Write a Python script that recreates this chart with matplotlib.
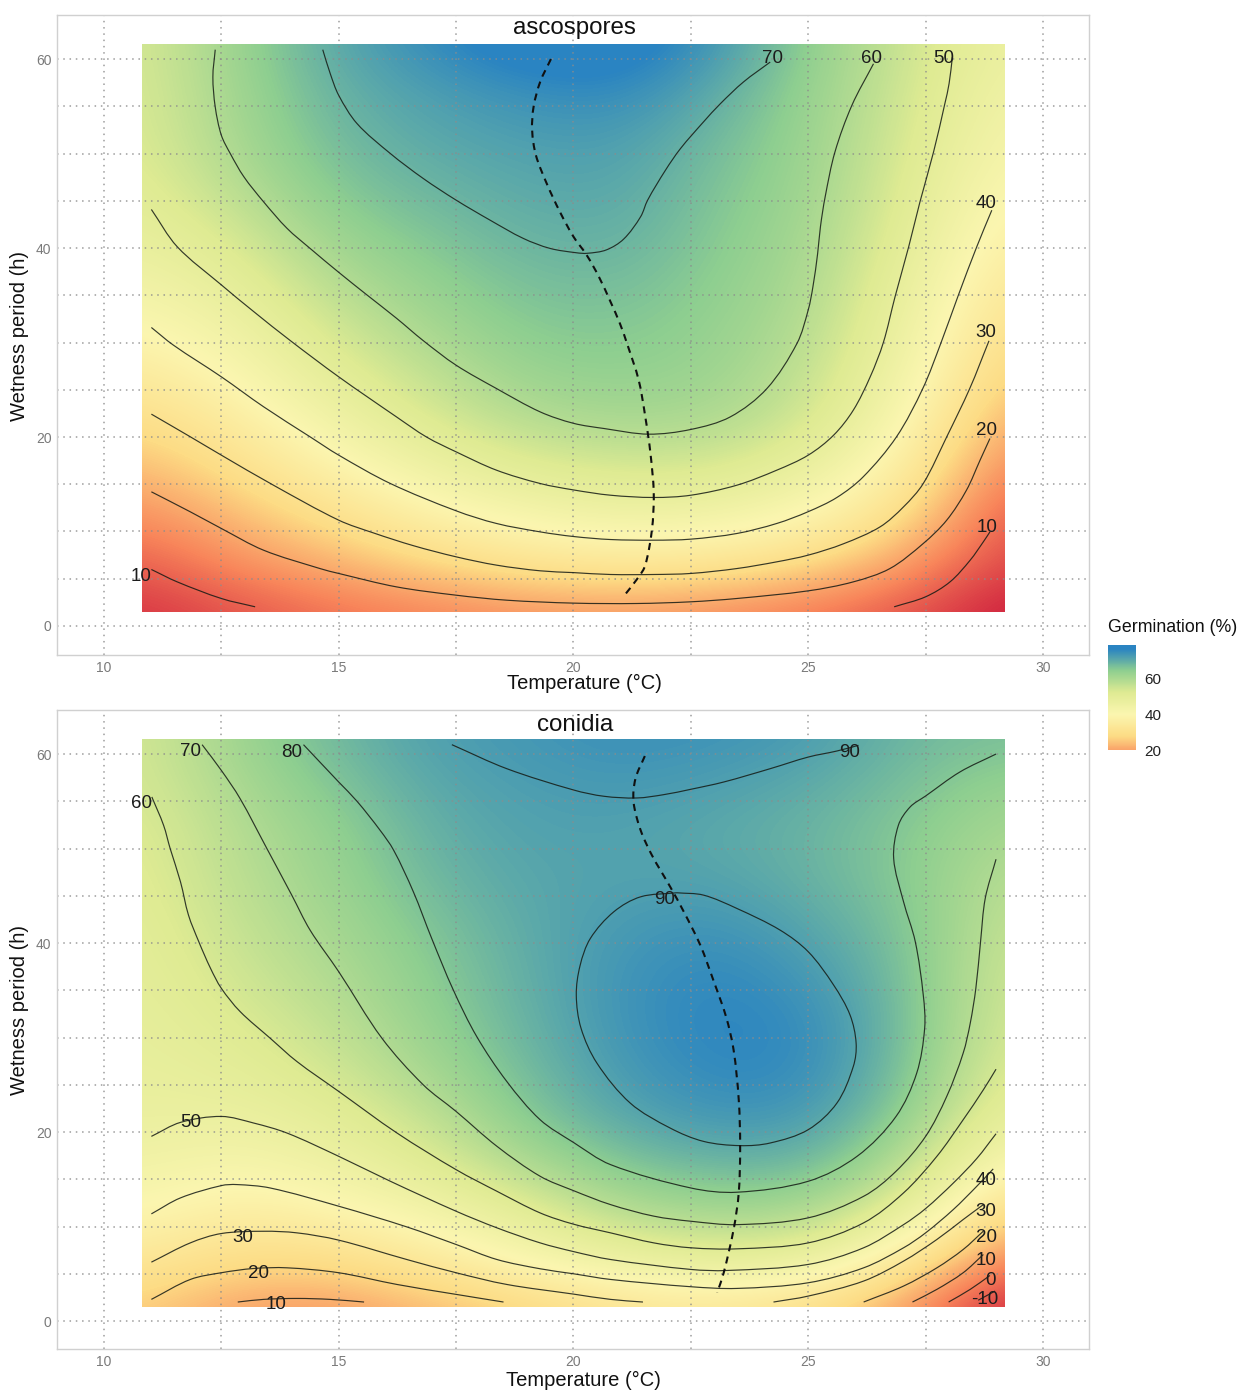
import numpy as np
import matplotlib
matplotlib.use('Agg')
import matplotlib.pyplot as plt
from matplotlib.colors import LinearSegmentedColormap, Normalize
from matplotlib.patches import PathPatch, Rectangle
from matplotlib.path import Path

plt.rcParams['font.family'] = ['Liberation Sans', 'DejaVu Sans']

# Surface: rows are wetness, columns are temperature
temp_nodes = [10.8, 12.84, 14.89, 16.93, 18.98, 21.02, 23.07, 25.11, 27.16, 29.2]
wet_nodes = [1.5, 6.5, 11.5, 16.5, 21.5, 26.5, 31.5, 36.5, 41.5, 46.5, 51.5, 56.5, 61.5]

asco_surface = [
    [5, 9, 13, 15, 17, 18, 16.5, 13.5, 9, 2],
    [10.5, 17, 21.5, 27, 31, 33, 31.5, 27.5, 18.5, 7],
    [16.5, 23, 30, 37, 42, 45, 44, 39, 28, 10],
    [22.5, 29.5, 37.5, 45.5, 51, 53.5, 53, 47, 34.5, 15],
    [28.5, 35, 44.5, 52.5, 58.5, 60.5, 59.8, 53.5, 39.5, 20.5],
    [34, 40.5, 50, 57, 63, 64, 62.5, 56.5, 43, 25.5],
    [39.5, 45, 54.5, 61, 65.5, 66, 63.5, 58.5, 45.5, 29.5],
    [44, 49.5, 59, 64, 67.5, 68, 64.5, 60, 47.5, 33],
    [48, 54, 63, 66.5, 69.5, 70, 65.5, 61, 50, 36.5],
    [50.5, 58.5, 66, 69, 71, 71.5, 66.5, 62, 51.5, 39.5],
    [52, 61, 68, 71, 72.5, 73, 68, 62.5, 53, 42],
    [52.5, 62, 69.5, 72.5, 75, 76, 70.5, 63, 54, 44],
    [53, 63, 71, 75.5, 80, 80, 74, 64, 55, 46],
]
conidia_surface = [
    [19, 9, 8, 14, 20, 27, 30, 23, 8, -16],
    [30.5, 23, 24, 31.5, 42, 50.5, 55, 52, 30, 3],
    [40.5, 34, 38, 45, 56, 69, 73, 71, 53, 21],
    [47, 43, 48, 57.5, 70, 80, 84, 83.5, 67, 39.5],
    [51, 50, 55.5, 65.5, 79, 87.5, 91.5, 90.5, 76.5, 51],
    [52.5, 55, 62, 72, 82.5, 90.5, 95, 94, 80.5, 57],
    [53.5, 59, 66, 76, 84.5, 92, 96, 94, 81.5, 60],
    [54.5, 62.5, 69.5, 78, 85.5, 92, 95, 91, 81, 61.5],
    [55.5, 65, 72, 80, 86.5, 90.5, 92.5, 87.5, 80, 64],
    [57, 67, 74.5, 83, 87.5, 88.5, 88.5, 84.5, 78.5, 67],
    [58, 68.5, 76, 85, 88.5, 88.5, 86.5, 84, 78.5, 71],
    [60, 71, 79.5, 87, 89.5, 90.5, 89, 86, 81, 75],
    [61, 74, 83, 89, 91, 93, 92, 90, 83, 81],
]

# Contour lines (temperature, wetness)
asco_10a = [(11.01, 5.98), (11.56, 4.67), (12.5, 2.91), (13.22, 2.03)]
asco_10b = [(26.83, 2.03), (27.5, 3.09), (28.02, 4.67), (28.45, 6.97), (28.73, 8.91), (28.87, 9.96)]
asco_20 = [(11.01, 14.2), (11.84, 12.08), (12.5, 10.32), (13.4, 8.02), (14.6, 6.08), (15.0, 5.56), (16.23, 4.14),
           (17.5, 3.26), (18.58, 2.73), (20.0, 2.42), (21.35, 2.38), (22.5, 2.56), (23.48, 2.91), (25.0, 3.72),
           (25.96, 4.67), (26.74, 6.08), (27.45, 8.73), (27.95, 11.2), (28.37, 14.37), (28.66, 17.55), (28.87, 19.84)]
asco_30 = [(11.01, 22.42), (11.84, 20.02), (12.5, 18.08), (13.61, 14.9), (15.0, 11.2), (15.74, 9.85), (16.59, 8.5),
           (17.5, 7.32), (18.36, 6.44), (19.29, 5.84), (20.0, 5.65), (20.79, 5.45), (21.71, 5.45), (22.5, 5.56),
           (23.48, 6.08), (24.33, 6.79), (25.0, 7.5), (25.75, 8.7), (26.53, 10.49), (27.03, 12.61), (27.45, 15.08),
           (27.95, 20.02), (28.44, 25.13), (28.85, 30.18)]
asco_40 = [(11.01, 31.59), (11.48, 29.72), (12.5, 26.37), (13.4, 23.2), (14.39, 20.02), (15.0, 18.08), (16.1, 15.08),
           (17.5, 12.19), (18.36, 10.85), (19.29, 9.96), (20.0, 9.47), (20.79, 9.15), (21.71, 9.08), (22.5, 9.19),
           (23.48, 9.79), (24.33, 10.85), (25.0, 12.1), (25.61, 13.6), (26.17, 15.78), (26.88, 20.02), (27.44, 25.13),
           (27.83, 30.0), (28.2, 35.04), (28.59, 40.14), (28.91, 44.0)]
asco_50 = [(11.01, 44.08), (11.56, 40.14), (12.5, 36.1), (13.19, 33.27), (13.97, 30.2), (15.0, 26.37),
           (16.23, 22.13), (16.87, 20.0), (17.5, 18.43), (18.36, 16.49), (19.29, 15.08), (20.0, 14.4), (20.79, 13.84),
           (21.71, 13.6), (22.5, 13.84), (23.48, 14.9), (24.33, 16.49), (25.0, 18.08), (25.54, 20.19), (25.96, 22.84),
           (26.32, 26.37), (26.6, 30.0), (26.85, 34.86), (27.14, 40.14), (27.38, 44.89), (27.67, 50.18), (27.91, 55.28),
           (28.0, 57.4), (28.07, 60.2)]
asco_60 = [(12.37, 60.99), (12.32, 58.1), (12.37, 54.93), (12.5, 51.94), (12.69, 50.0), (12.98, 47.54), (13.4, 44.89),
           (13.9, 42.08), (14.39, 39.96), (15.0, 37.43), (15.6, 35.04), (16.23, 32.57), (16.8, 30.2), (17.5, 27.6),
           (18.36, 25.13), (19.29, 22.66), (20.0, 21.45), (20.65, 20.9), (21.6, 20.3), (22.5, 20.8), (23.34, 22.13),
           (24.12, 25.13), (24.76, 29.9), (25.0, 33.45), (25.1, 35.9), (25.2, 39.4), (25.26, 42.25), (25.36, 45.4),
           (25.57, 50.18), (25.93, 55.1), (26.39, 59.5)]
asco_70 = [(14.66, 60.99), (14.82, 58.45), (15.0, 56.16), (15.39, 53.17), (16.1, 50.0), (16.8, 47.36), (17.5, 45.07),
           (18.22, 42.96), (18.93, 41.02), (19.5, 39.96), (20.06, 39.5), (20.29, 39.44), (20.7, 39.8), (21.07, 40.95),
           (21.43, 43.31), (21.58, 45.07), (21.96, 48.24), (22.28, 50.53), (22.77, 53.35), (23.13, 55.28), (23.62, 57.57),
           (24.19, 59.68)]
asco_lines = [asco_10a, asco_10b, asco_20, asco_30, asco_40, asco_50, asco_60, asco_70]
asco_optimum = [(19.52, 60.0), (19.29, 57.57), (19.15, 54.93), (19.12, 52.46), (19.2, 49.82), (19.43, 46.83),
                (19.71, 43.84), (20.0, 41.2), (20.28, 39.26), (20.54, 36.97), (20.79, 34.3), (20.99, 32.0), (21.14, 29.9),
                (21.39, 26.0), (21.53, 22.13), (21.64, 18.25), (21.71, 14.0), (21.67, 10.14), (21.53, 6.44), (21.39, 5.2),
                (21.06, 3.09)]

con_m10 = [(28.62, 2.2), (28.98, 3.17)]
con_0 = [(27.99, 2.01), (28.45, 3.35), (28.87, 4.82)]
con_10a = [(12.85, 2.01), (13.4, 2.29), (14.11, 2.39), (14.82, 2.29), (15.54, 2.01)]
con_10b = [(27.22, 2.01), (27.74, 3.35), (28.3, 5.11), (28.73, 7.04)]
con_20a = [(11.01, 2.29), (11.84, 4.4), (12.5, 5.11), (13.19, 5.56), (13.9, 5.63), (15.0, 5.11), (16.24, 3.87),
           (17.5, 2.82), (18.51, 2.01)]
con_20b = [(26.18, 2.01), (27.03, 3.7), (27.74, 5.63), (28.3, 7.57), (28.73, 9.51)]
con_30a = [(11.01, 6.23), (11.84, 8.27), (12.5, 9.26), (13.4, 9.5), (14.11, 9.33), (15.0, 8.56), (16.45, 6.51),
           (17.5, 5.11), (18.58, 3.87), (20.0, 2.85), (20.79, 2.29), (21.48, 2.01)]
con_30b = [(24.26, 2.01), (25.0, 2.64), (26.18, 4.23), (27.03, 6.34), (27.74, 8.63), (28.3, 10.74), (28.73, 12.32)]
con_40 = [(11.01, 11.34), (11.63, 13.03), (12.5, 14.33), (12.83, 14.44), (13.54, 14.08), (15.0, 12.15), (16.45, 9.96),
          (17.5, 8.1), (18.37, 6.51), (19.29, 5.53), (20.0, 5.0), (20.79, 4.4), (22.5, 3.63), (23.48, 3.45), (25.0, 4.05),
          (26.18, 5.63), (27.03, 7.75), (27.5, 9.33), (28.09, 11.8), (28.59, 14.26), (28.94, 16.1)]
con_50 = [(11.01, 19.54), (11.63, 21.02), (12.5, 21.65), (13.19, 20.95), (13.9, 19.89), (15.0, 17.43), (16.1, 14.79),
          (17.5, 11.62), (18.37, 9.86), (19.29, 8.27), (20.0, 7.35), (20.79, 6.51), (22.5, 5.46), (23.27, 5.35), (25.0, 5.99),
          (26.18, 7.75), (27.03, 10.2), (27.5, 11.9), (28.09, 14.6), (28.59, 17.2), (29.0, 19.82)]
con_60 = [(11.02, 55.46), (11.27, 52.46), (11.41, 50.0), (11.63, 46.48), (11.8, 42.96), (12.02, 40.14), (12.27, 37.32),
          (12.5, 35.21), (12.9, 32.75), (13.54, 29.93), (14.11, 27.46), (15.0, 24.3), (16.24, 19.9), (17.5, 16.02),
          (18.37, 13.73), (19.29, 11.44), (20.0, 10.25), (20.79, 9.33), (21.71, 8.27), (22.5, 7.75), (23.48, 7.64), (25.0, 8.27),
          (26.18, 10.39), (27.03, 13.56), (27.74, 17.43), (28.3, 21.3), (28.73, 24.47), (29.0, 26.65)]
con_70 = [(12.09, 60.99), (12.5, 58.27), (12.9, 55.28), (13.47, 50.0), (14.0, 45.07), (14.39, 41.37), (15.0, 36.97),
          (15.92, 29.93), (16.8, 25.0), (17.5, 22.18), (18.37, 18.49), (19.29, 15.32), (20.0, 13.8),
          (20.79, 12.32), (21.71, 11.1), (22.5, 10.56), (23.48, 10.2), (25.0, 10.92), (26.18, 13.2), (26.87, 15.85), (27.5, 19.54),
          (27.95, 23.77), (28.3, 28.35), (28.45, 31.5), (28.57, 35.21), (28.67, 40.14), (28.77, 44.72), (29.0, 48.87)]
con_80 = [(14.25, 60.99), (15.0, 57.04), (15.39, 55.0), (15.88, 51.94), (16.17, 49.82), (16.59, 45.42), (16.98, 40.49),
          (17.44, 35.04), (17.94, 30.1), (18.58, 25.35), (19.29, 21.3), (20.0, 18.9), (20.79, 16.55), (22.5, 14.08),
          (23.48, 13.63), (25.0, 14.79), (26.04, 17.43), (26.87, 21.65), (27.31, 26.23), (27.48, 31.0), (27.45, 34.5),
          (27.28, 40.14), (27.03, 44.37), (26.82, 48.94), (26.92, 52.46), (27.17, 54.4), (27.5, 55.56), (28.23, 58.1),
          (29.0, 60.0)]
con_90a = [(17.41, 60.99), (18.58, 58.45), (20.0, 56.2), (20.65, 55.53), (21.35, 55.35), (21.92, 55.7), (22.5, 56.27),
           (23.2, 57.04), (24.19, 58.45), (25.0, 59.68), (25.61, 60.32), (26.07, 60.92)]
con_90b = [(22.2, 45.32), (22.77, 45.07), (23.48, 43.66), (24.4, 41.37), (25.0, 39.08), (25.54, 35.56), (25.89, 32.39),
           (26.02, 29.4), (25.96, 26.94), (25.61, 23.06), (25.0, 20.25), (24.19, 18.84), (23.55, 18.56), (22.77, 19.01),
           (22.06, 20.42), (21.21, 23.06), (20.5, 27.29), (20.16, 31.0), (20.06, 34.5), (20.14, 37.6), (20.36, 40.49),
           (20.86, 43.31), (21.43, 44.89), (22.2, 45.32)]
con_lines = [con_m10, con_0, con_10a, con_10b, con_20a, con_20b, con_30a, con_30b, con_40, con_50, con_60, con_70,
             con_80, con_90a, con_90b]
con_optimum = [(21.52, 59.79), (21.32, 57.39), (21.28, 54.93), (21.43, 51.94), (21.67, 49.3), (22.06, 45.95), (22.35, 43.31),
               (22.7, 39.79), (22.99, 35.92), (23.25, 32.2), (23.41, 28.7), (23.52, 23.42), (23.55, 18.49), (23.52, 13.56),
               (23.41, 9.68), (23.2, 5.11), (23.06, 3.0)]

# Contour labels
asco_label_text = ['10', '70', '60', '50', '40', '30', '20', '10']
asco_label_t = [10.79, 24.23, 26.34, 27.89, 28.79, 28.79, 28.79, 28.81]
asco_label_w = [5.19, 60.1, 60.1, 60.1, 44.66, 31.1, 20.64, 10.38]
con_label_text = ['60', '70', '80', '90', '90', '50', '30', '20', '10', '40', '30', '20', '10', '0', '-10']
con_label_t = [10.79, 11.85, 14.0, 25.87, 21.95, 11.85, 12.96, 13.3, 13.66, 28.79, 28.79, 28.79, 28.79, 28.89, 28.76]
con_label_w = [54.8, 60.3, 60.2, 60.2, 44.56, 20.96, 8.79, 4.98, 1.7, 14.82, 11.54, 8.79, 6.36, 4.24, 2.33]

spectral = LinearSegmentedColormap.from_list(
    'spectral7', ['#d0233f', '#f8845a', '#fddc85', '#fbf6b0', '#dfeb93', '#8fcf90', '#2a84c2'])
asco_norm = Normalize(3, 77)
con_norm = Normalize(-15, 96)

W, H = 1252, 1392
fig = plt.figure(figsize=(W / 100, H / 100), dpi=100)


def curve(points):
    # bezier path through the read points, so the line does not show corners
    p = np.array(points, dtype=float)
    scale = np.array([46.95, 9.45])
    d = np.hypot(*((p[1:] - p[:-1]) * scale).T)
    tang = np.zeros_like(p)
    tang[1:-1] = (p[2:] - p[:-2]) / (d[1:] + d[:-1])[:, None]
    tang[0] = (p[1] - p[0]) / d[0]
    tang[-1] = (p[-1] - p[-2]) / d[-1]
    verts = [p[0]]
    codes = [Path.MOVETO]
    for i in range(len(p) - 1):
        verts += [p[i] + tang[i] * d[i] / 3, p[i + 1] - tang[i + 1] * d[i] / 3, p[i + 1]]
        codes += [Path.CURVE4] * 3
    return Path(verts, codes)


def panel(top, bottom, ymax, ymin, surface, norm, lines, optimum, title, title_y, lab_text, lab_t, lab_w):
    ax = fig.add_axes([57 / W, 1 - bottom / H, (1089 - 57) / W, (bottom - top) / H])
    dx = temp_nodes[1] - temp_nodes[0]
    dy = wet_nodes[1] - wet_nodes[0]
    im = ax.imshow(np.array(surface, dtype=float), origin='lower', aspect='auto', cmap=spectral, norm=norm,
                   interpolation='bicubic', zorder=1,
                   extent=(temp_nodes[0] - dx / 2, temp_nodes[-1] + dx / 2, wet_nodes[0] - dy / 2, wet_nodes[-1] + dy / 2))
    clip = Rectangle((10.8, 1.5), 29.17 - 10.8, 61.55 - 1.5, transform=ax.transData)
    im.set_clip_path(clip)
    ax.set_xlim(9.0, 30.98)
    ax.set_ylim(ymin, ymax)
    ax.set_xticks([10, 15, 20, 25, 30])
    ax.set_yticks([0, 20, 40, 60])
    for x in np.arange(10, 30.1, 2.5):
        ax.axvline(x, color='#8c8c8c', lw=1.1, ls=(0, (1.0, 3.1)), alpha=0.85, zorder=2)
    for y in np.arange(0, 60.1, 5):
        ax.axhline(y, color='#8c8c8c', lw=1.1, ls=(0, (1.0, 3.1)), alpha=0.85, zorder=2)
    for line in lines:
        ax.add_patch(PathPatch(curve(line), fill=False, edgecolor='#141a14', lw=0.85, alpha=0.85, zorder=3))
    ax.add_patch(PathPatch(curve(optimum), fill=False, edgecolor='#101010', lw=1.5, ls=(0, (3.4, 2.6)), zorder=4))
    for s, t, w in zip(lab_text, lab_t, lab_w):
        ax.text(t, w, s, ha='center', va='center', fontsize=13.5, color='#1c1c1c', zorder=5)
    ax.tick_params(length=0, labelsize=10, labelcolor='#7a7a7a', pad=4)
    for sp in ax.spines.values():
        sp.set_color('#d0d0d0')
        sp.set_linewidth(1.0)
    ax.text(20.03, title_y, title, ha='center', va='center', fontsize=17.4, color='#111111', zorder=5)
    return ax


ax1 = panel(15, 655, 64.66, -3.07, asco_surface, asco_norm, asco_lines, asco_optimum, 'ascospores', 63.3,
            asco_label_text, asco_label_t, asco_label_w)
ax2 = panel(710, 1349, 64.66, -2.96, conidia_surface, con_norm, con_lines, con_optimum, 'conidia', 63.05,
            con_label_text, con_label_t, con_label_w)

fig.text(584 / W, 1 - 683 / H, 'Temperature (°C)', ha='center', va='center', fontsize=14.5, color='#111111')
fig.text(583 / W, 1 - 1380 / H, 'Temperature (°C)', ha='center', va='center', fontsize=14.5, color='#111111')
fig.text(20 / W, 1 - 336 / H, 'Wetness period (h)', ha='center', va='center', rotation=90, fontsize=14.5, color='#111111')
fig.text(20 / W, 1 - 1010 / H, 'Wetness period (h)', ha='center', va='center', rotation=90, fontsize=14.5, color='#111111')

# Legend
legend_values = [20, 40, 60]
cax = fig.add_axes([1108 / W, 1 - 750 / H, 28 / W, 105 / H])
cax.imshow(np.linspace(79, 20, 200).reshape(-1, 1), aspect='auto', cmap=spectral, norm=asco_norm,
           extent=(0, 1, 20, 79))
cax.set_xticks([])
cax.set_yticks([])
for sp in cax.spines.values():
    sp.set_visible(False)
for v, py in zip(legend_values, [752, 716, 680]):
    fig.text(1153 / W, 1 - py / H, str(v), ha='center', va='center', fontsize=11, color='#222222')
fig.text(1108 / W, 1 - 628 / H, 'Germination (%)', ha='left', va='center', fontsize=12.8, color='#111111')

fig.savefig('out.png', dpi=100)
